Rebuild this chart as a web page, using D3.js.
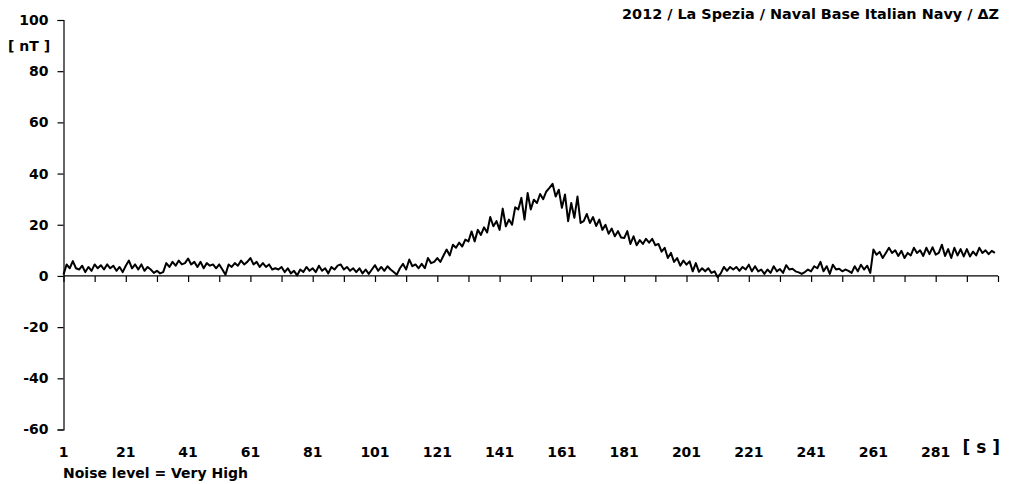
<!DOCTYPE html>
<html lang="en">
<head>
    <meta charset="UTF-8">
    <title>La Spezia ΔZ</title>
    <script src="https://d3js.org/d3.v7.min.js"></script>
    <style>
        body { margin: 0; background: #fff; }
        svg { display: block; font-family: "DejaVu Sans", sans-serif; font-weight: bold; }
    </style>
</head>
<body>
<svg width="1011" height="484"></svg>
<script>
    // ΔZ readings, one per second (1..300)
    const deltaZ = [
        0.5, 4.5, 3, 5.8, 3, 2.5, 4, 1.5, 3.5, 2,
        4.5, 3, 4.2, 2.5, 4.5, 3, 4, 2, 3.5, 1.5,
        4, 6, 3, 4.5, 2.5, 4.5, 2, 3.5, 2.5, 1.2,
        2, 1, 1.5, 5, 3.5, 5.5, 4, 6, 4.5, 5,
        6.8, 4.5, 5.5, 3.5, 5.5, 3, 5, 4, 4.5, 3,
        4.5, 2.5, 0.5, 4.5, 3.5, 5, 4, 6, 4.5, 5.5,
        7, 4.5, 5.5, 3.5, 5, 3.5, 4.5, 2.5, 3, 2.5,
        3.5, 1.5, 3, 1, 2, 0.2, 2.5, 1.5, 3.5, 2,
        3, 1.5, 4, 2, 3, 1, 3.5, 2.5, 4, 4.5,
        2.5, 3.5, 2, 3, 1.5, 3, 1, 2.5, 0.8, 2.5,
        4.2, 2, 3.5, 2, 3.8, 2.5, 1.5, 0.5, 3, 4.7,
        2.5, 6.4, 3.8, 4.5, 3, 4.7, 3, 7, 5, 5.5,
        7, 5.5, 8, 10.3, 8, 12.2, 11, 13, 11.5, 14.2,
        13.5, 17.4, 13.5, 18, 16, 19, 17, 23, 19.4, 21.4,
        18, 26.3, 19.4, 22, 20, 26.8, 26, 30.5, 22, 32.4,
        26, 29.8, 28.5, 32, 30, 33, 34.4, 36, 31, 33.7,
        26.6, 31.8, 21.4, 28.5, 22.7, 31, 20.7, 21.4, 24.2, 20.7,
        23, 19.5, 22, 18, 20, 16.5, 18.5, 15.5, 17.5, 15,
        14.8, 17.5, 12.5, 15.5, 12, 14, 12.5, 14.5, 13, 14.5,
        12, 12.5, 9.5, 11, 7, 9, 5.5, 7, 4, 6,
        4.4, 5.7, 1.8, 5, 1.6, 3, 1.8, 3, 1.2, 1.8,
        -0.5, 1, 3.5, 2, 3.5, 2.5, 3.5, 2, 3.5, 2.5,
        4.4, 1.8, 3.8, 1.8, 2.5, 0.8, 2.5, 1.2, 3.8, 1.8,
        2.7, 1.2, 4.2, 2.5, 2.8, 1.8, 1.4, 0.8, 1.5, 2.5,
        1.8, 3.8, 3, 5.5, 1.8, 3.8, 0.8, 4.4, 2.5, 2.8,
        1.8, 2.5, 2, 1.2, 3.8, 1.8, 4.4, 2.5, 4, 1.2,
        10.3, 8.3, 9.4, 7, 9, 11, 9, 10, 7.8, 9.8,
        7, 9, 8, 11, 9, 10, 7.8, 11, 8.5, 11.2,
        8.3, 9, 12.2, 7.8, 10.5, 7, 11, 8, 10.5, 7.6,
        10.5, 7.6, 9.5, 8, 11, 9, 10, 8.5, 9.8, 9
    ];
    const seconds = deltaZ.map((_, i) => i + 1);
    const yTicks = [-60, -40, -20, 0, 20, 40, 60, 80, 100];
    const xLabels = [1, 21, 41, 61, 81, 101, 121, 141, 161, 181, 201, 221, 241, 261, 281];
    const xTickMarks = d3.range(1, 302, 10);

    const svg = d3.select("svg");

    const x = d3.scaleLinear().domain([1, 301]).range([63.5, 998]);
    const y = d3.scaleLinear().domain([-60, 100]).range([429.5, 20]);

    // y axis
    const yAxis = svg.append("g")
        .attr("transform", "translate(63.5,0)")
        .call(d3.axisLeft(y).tickValues(yTicks).tickSize(6).tickPadding(9).tickFormat(d => String(d)));
    yAxis.select(".domain").attr("stroke", "#000").attr("stroke-width", 1.2);
    yAxis.selectAll(".tick line").attr("stroke", "#000").attr("stroke-width", 1.2);
    yAxis.selectAll(".tick text")
        .attr("fill", "#000")
        .style("font-size", "14px")
        .style("font-weight", "bold")
        .style("font-family", "'DejaVu Sans', sans-serif");

    // x axis along zero
    const xAxis = svg.append("g")
        .attr("transform", `translate(0,${y(0)})`)
        .call(d3.axisBottom(x).tickValues(xTickMarks).tickSize(6).tickFormat(""));
    xAxis.select(".domain").attr("stroke", "#000").attr("stroke-width", 1.2).attr("d", `M${x(1)},0H${x(301)}`);
    xAxis.selectAll(".tick line").attr("stroke", "#000").attr("stroke-width", 1.2);

    // x labels at the bottom
    svg.append("g")
        .selectAll("text")
        .data(xLabels)
        .join("text")
        .attr("x", d => x(d))
        .attr("y", 457)
        .attr("text-anchor", "middle")
        .style("font-size", "14px")
        .text(d => d);

    // line
    const line = d3.line()
        .x((d, i) => x(seconds[i]))
        .y(d => y(d));
    svg.append("path")
        .datum(deltaZ)
        .attr("fill", "none")
        .attr("stroke", "#000")
        .attr("stroke-width", 2)
        .attr("stroke-linejoin", "round")
        .attr("d", line);

    // titles
    svg.append("text")
        .attr("x", 999).attr("y", 19)
        .attr("text-anchor", "end")
        .style("font-size", "14.4px")
        .text("2012 / La Spezia / Naval Base Italian Navy / ΔZ");
    svg.append("text")
        .attr("x", 8).attr("y", 51)
        .style("font-size", "14px")
        .text("[ nT ]");
    svg.append("text")
        .attr("x", 1000).attr("y", 453)
        .attr("text-anchor", "end")
        .style("font-size", "17px")
        .text("[ s ]");
    svg.append("text")
        .attr("x", 63).attr("y", 478)
        .style("font-size", "14px")
        .text("Noise level = Very High");
</script>
</body>
</html>
